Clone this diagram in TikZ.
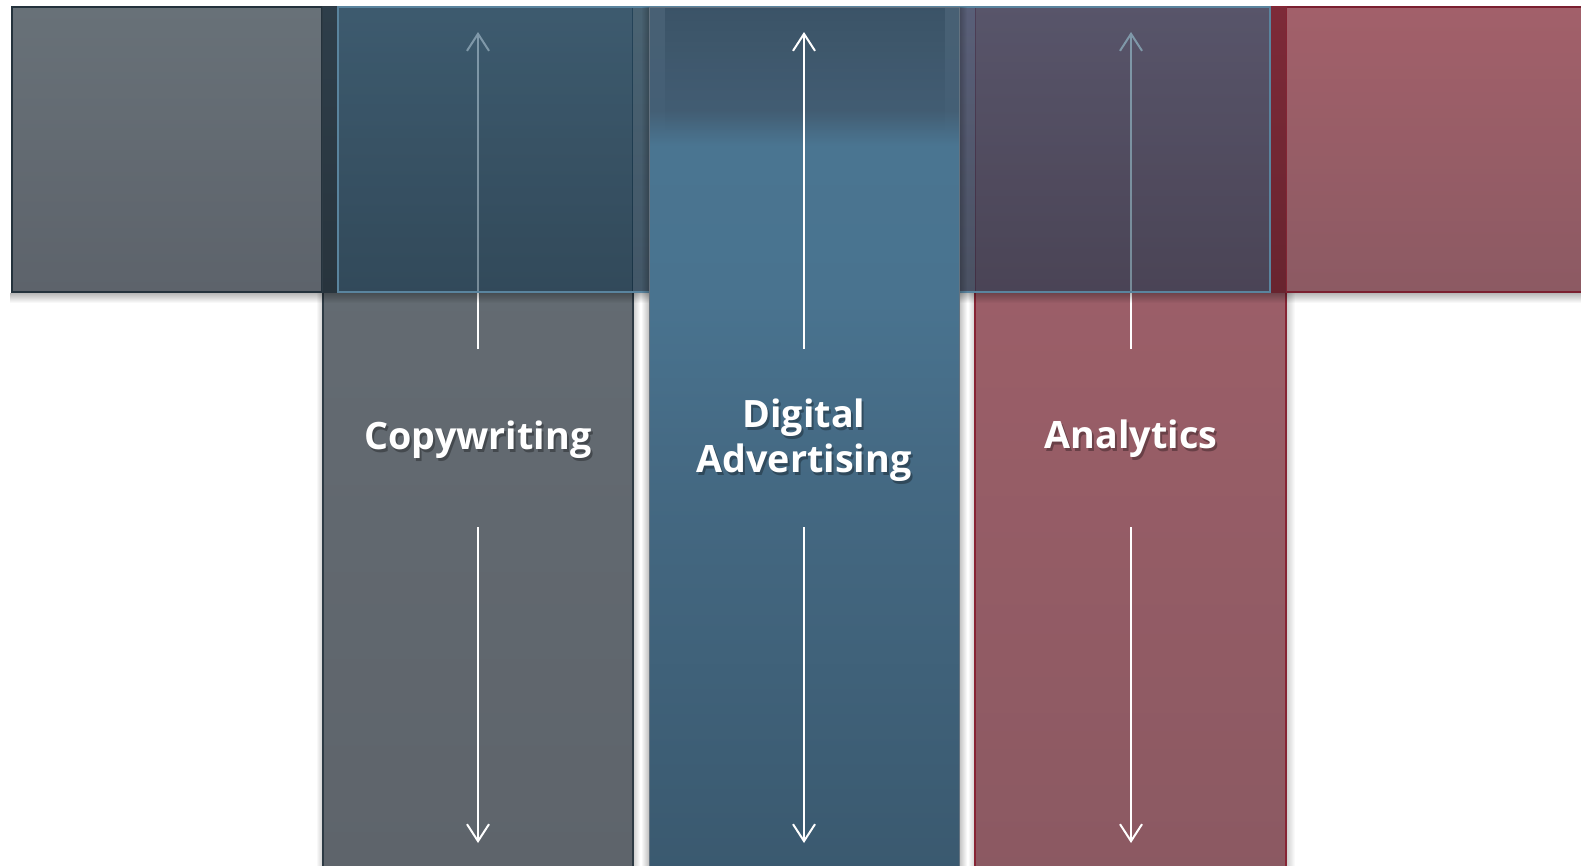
\documentclass[tikz,border=0pt]{standalone}
\usepackage{fontspec}
\setmainfont{Open Sans}
\usetikzlibrary{arrows.meta,fadings}

% palette
\definecolor{lbtop}{RGB}{104,113,120}
\definecolor{lbbot}{RGB}{93,99,107}
\definecolor{lbedge}{RGB}{36,50,60}
\definecolor{cAtop}{RGB}{102,110,117}
\definecolor{cAbot}{RGB}{94,100,107}
\definecolor{cAedge}{RGB}{45,58,68}
\definecolor{cCtop}{RGB}{163,97,107}
\definecolor{cCbot}{RGB}{139,89,98}
\definecolor{cCedge}{RGB}{135,36,52}
\definecolor{rbtop}{RGB}{162,96,106}
\definecolor{rbbot}{RGB}{140,90,99}
\definecolor{rbedge}{RGB}{122,32,48}
\definecolor{lstriptop}{RGB}{46,62,74}
\definecolor{lstripbot}{RGB}{40,52,61}
\definecolor{rstriptop}{RGB}{125,42,56}
\definecolor{rstripbot}{RGB}{104,36,47}
\definecolor{gAtop}{RGB}{130,128,125}
\definecolor{gAbot}{RGB}{138,138,145}
\definecolor{gBtop}{RGB}{166,120,139}
\definecolor{gBbot}{RGB}{155,125,134}
\definecolor{bandtop}{RGB}{30,76,106}
\definecolor{bandbot}{RGB}{12,48,72}
\definecolor{bandedge}{RGB}{90,132,158}
\definecolor{cBa}{RGB}{72,96,116}
\definecolor{cBb}{RGB}{68,95,117}
\definecolor{cBc}{RGB}{74,117,145}
\definecolor{cBd}{RGB}{73,115,143}
\definecolor{cBe}{RGB}{69,106,132}
\definecolor{cBf}{RGB}{58,89,111}
\definecolor{cBedge}{RGB}{100,115,128}
\definecolor{cBdark}{RGB}{30,55,75}

% middle column: dark cap, bright band, darker foot
% (TikZ fits the central 25bp--75bp part of a shading to the path)
\pgfdeclareverticalshading{coltwo}{100bp}{%
  color(0bp)=(cBf); color(25bp)=(cBf); color(49.33bp)=(cBe); color(58.03bp)=(cBd);
  color(67bp)=(cBc); color(69.03bp)=(cBb); color(75bp)=(cBa); color(100bp)=(cBa)}

\tikzfading[name=fadetoleft, left color=transparent!100, right color=transparent!0]
\tikzfading[name=fadetoright, left color=transparent!0, right color=transparent!100]
\tikzfading[name=fadetodown, top color=transparent!0, bottom color=transparent!100]
\tikzfading[name=capfade, top color=transparent!0, middle color=transparent!15, bottom color=transparent!100]

\begin{document}
\begin{tikzpicture}[x=1pt,y=-1pt,
  arr/.style={draw=white, line width=2pt,
    -{Straight Barb[length=17pt,width=22pt,line width=2pt]}},
  lbl/.style={text=white, inner sep=0pt, align=center,
    font=\fontsize{37.7}{45}\selectfont\bfseries},
  lblshade/.style={lbl, text=black, text opacity=0.3},
  sidel/.style={fill=black, opacity=0.2, path fading=fadetoleft},
  sider/.style={fill=black, opacity=0.2, path fading=fadetoright}]

\useasboundingbox (0,0) rectangle (1581,865);
\fill[white] (0,0) rectangle (1581,865);

% soft shadows beside the outer columns
\fill[sidel] (316,7) rectangle (323,870);
\fill[sider] (633,7) rectangle (640,870);
\fill[sidel] (968,7) rectangle (975,870);
\fill[sider] (1286,7) rectangle (1295,870);

% top band: grey and red end panels
\shadedraw[top color=lbtop, bottom color=lbbot, draw=lbedge, line width=1.5pt]
  (12,7) rectangle (322,292);
\shadedraw[top color=rbtop, bottom color=rbbot, draw=rbedge, line width=1.5pt]
  (1286,7) rectangle (1600,292);

% outer columns
\shadedraw[top color=cAtop, bottom color=cAbot, draw=cAedge, line width=1.8pt]
  (323,7) rectangle (633,875);
\shadedraw[top color=cCtop, bottom color=cCbot, draw=cCedge, line width=1.8pt]
  (975,7) rectangle (1286,875);

% overlaps of panels and columns
\shade[top color=lstriptop, bottom color=lstripbot] (323,7) rectangle (338,292);
\shade[top color=rstriptop, bottom color=rstripbot] (1270,7) rectangle (1286,292);
\shade[top color=gAtop, bottom color=gAbot] (633,7) rectangle (649,292);
\shade[top color=gBtop, bottom color=gBbot] (959,7) rectangle (975,292);

% arrows of the outer columns
\coordinate (cwup0) at (478,349);   \coordinate (cwup1) at (478,32);
\coordinate (cwdn0) at (478,527);   \coordinate (cwdn1) at (478,843);
\coordinate (anup0) at (1131,349);  \coordinate (anup1) at (1131,32);
\coordinate (andn0) at (1131,527);  \coordinate (andn1) at (1131,843);
\draw[arr] (cwup0) -- (cwup1);
\draw[arr] (cwdn0) -- (cwdn1);
\draw[arr] (anup0) -- (anup1);
\draw[arr] (andn0) -- (andn1);

% shadow under the top band
\fill[black, opacity=0.28, path fading=fadetodown] (12,293) rectangle (1600,303);

% translucent blue band across the top
\shadedraw[top color=bandtop, bottom color=bandbot, fill opacity=0.56,
  draw=bandedge, line width=1.5pt] (338,7) rectangle (1270,292);

% middle column on top
\fill[black, opacity=0.25, path fading=fadetoleft] (641,7) rectangle (649,870);
\fill[black, opacity=0.25, path fading=fadetoright] (959,7) rectangle (967,870);
\shade[shading=coltwo] (649,7) rectangle (959,875);
\fill[cBdark, opacity=0.3, path fading=capfade] (665,7) rectangle (945,130);
\draw[cBedge, line width=0.8pt] (649,875) -- (649,7) -- (959,7) -- (959,875);

\coordinate (daup0) at (804,349);  \coordinate (daup1) at (804,32);
\coordinate (dadn0) at (804,527);  \coordinate (dadn1) at (804,843);
\draw[arr] (daup0) -- (daup1);
\draw[arr] (dadn0) -- (dadn1);

% labels with a soft drop shadow
\node[lblshade, anchor=base] (copyshade) at (480,452.5) {Copywriting};
\node[lblshade] (digishade) at (806,443.5) {Digital\\Advertising};
\node[lblshade, anchor=base] (analyshade) at (1133,451.5) {Analytics};
\node[lbl, anchor=base] (copy) at (478,449) {Copywriting};
\node[lbl] (digi) at (804,440) {Digital\\Advertising};
\node[lbl, anchor=base] (analy) at (1131,448) {Analytics};
\end{tikzpicture}
\end{document}
